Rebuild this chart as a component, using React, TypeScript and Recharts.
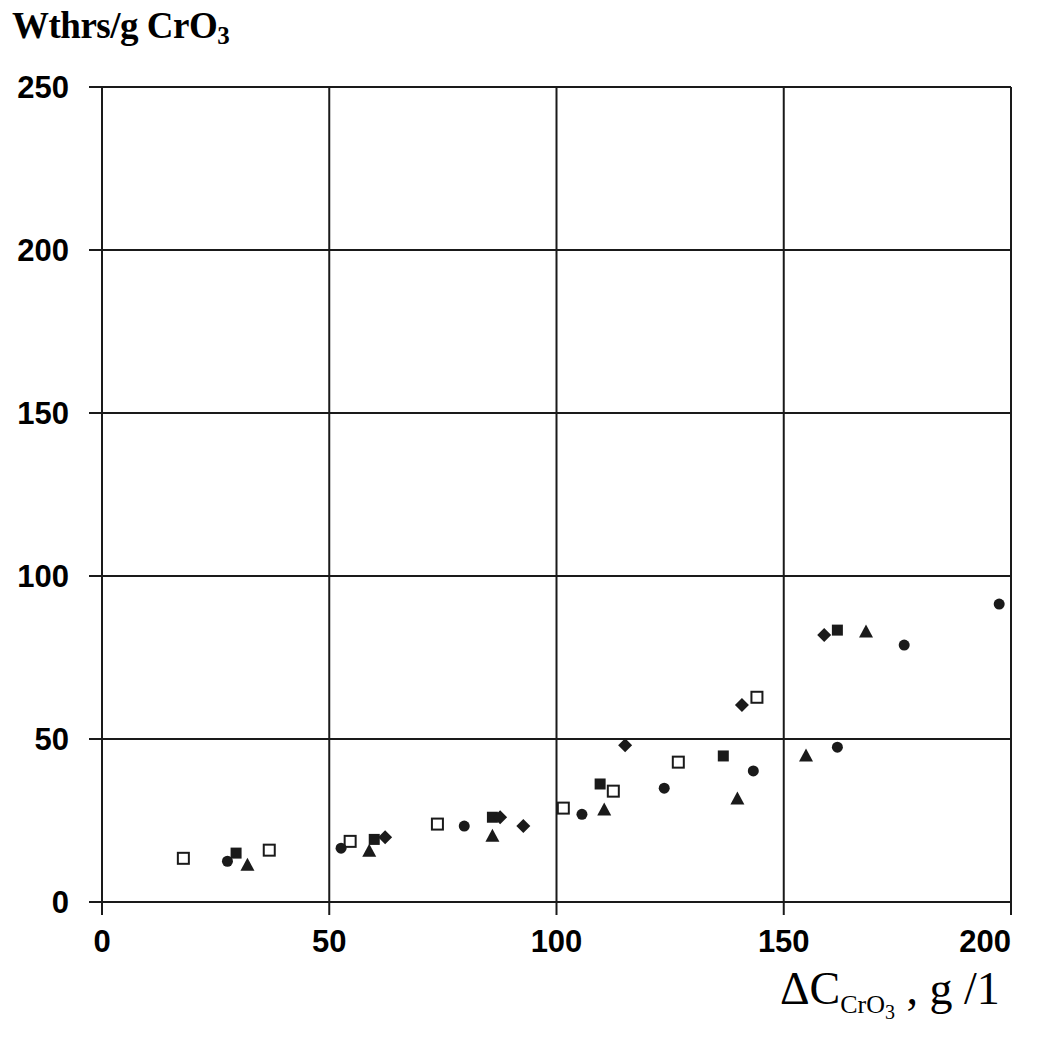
import React from 'react';
import { ScatterChart, Scatter, XAxis, YAxis, CartesianGrid } from 'recharts';

// Wthrs/g CrO3 vs ΔC CrO3, g/l
const circles = [
  { x: 27.6, y: 12.5 }, { x: 52.6, y: 16.5 }, { x: 79.7, y: 23.3 },
  { x: 105.6, y: 26.9 }, { x: 123.7, y: 34.9 }, { x: 143.3, y: 40.2 },
  { x: 161.8, y: 47.5 }, { x: 176.5, y: 78.8 }, { x: 197.4, y: 91.4 },
];
const filledSquares = [
  { x: 29.5, y: 15.0 }, { x: 59.9, y: 19.2 }, { x: 85.9, y: 26.0 },
  { x: 109.6, y: 36.2 }, { x: 136.7, y: 44.8 }, { x: 161.8, y: 83.4 },
];
const openSquares = [
  { x: 17.9, y: 13.4 }, { x: 36.8, y: 15.9 }, { x: 54.6, y: 18.6 },
  { x: 73.8, y: 23.9 }, { x: 101.5, y: 28.8 }, { x: 112.5, y: 34.0 },
  { x: 126.8, y: 42.9 }, { x: 144.1, y: 62.8 },
];
const triangles = [
  { x: 32.0, y: 11.3 }, { x: 58.8, y: 15.6 }, { x: 85.9, y: 20.2 },
  { x: 110.5, y: 28.2 }, { x: 139.8, y: 31.6 }, { x: 154.9, y: 44.8 },
  { x: 168.1, y: 82.8 },
];
const diamonds = [
  { x: 62.3, y: 19.9 }, { x: 87.6, y: 26.0 }, { x: 92.7, y: 23.3 },
  { x: 115.1, y: 48.1 }, { x: 140.8, y: 60.4 }, { x: 158.9, y: 81.9 },
];

const xTicks = [0, 50, 100, 150, 200];
const yTicks = [0, 50, 100, 150, 200, 250];

const INK = '#1a1a1a';
const tickFont = { fontFamily: '"Liberation Sans", Arial, sans-serif', fontWeight: 700, fontSize: 31, fill: '#000' };

const CircleShape = (p: any) => <circle cx={p.cx} cy={p.cy} r={5.5} fill={INK} />;
const SquareShape = (p: any) => <rect x={p.cx - 5.5} y={p.cy - 5.5} width={11} height={11} fill={INK} />;
const OpenSquareShape = (p: any) => (
  <rect x={p.cx - 5.5} y={p.cy - 5.5} width={11} height={11} fill="#fff" stroke={INK} strokeWidth={2} />
);
const TriangleShape = (p: any) => (
  <polygon points={`${p.cx},${p.cy - 7.5} ${p.cx - 7},${p.cy + 5.5} ${p.cx + 7},${p.cy + 5.5}`} fill={INK} />
);
const DiamondShape = (p: any) => (
  <polygon points={`${p.cx},${p.cy - 7} ${p.cx + 7},${p.cy} ${p.cx},${p.cy + 7} ${p.cx - 7},${p.cy}`} fill={INK} />
);

const XTick = (props: any) => {
  const { x, y, payload } = props;
  const last = payload.value === 200;
  return (
    <text x={x} y={y} dy="0.71em" textAnchor={last ? 'end' : 'middle'} style={tickFont}>
      {payload.value}
    </text>
  );
};

const YTick = (props: any) => {
  const { x, y, payload } = props;
  return (
    <text x={x} y={y} dy="0.36em" textAnchor="end" style={tickFont}>
      {payload.value}
    </text>
  );
};

export default function App() {
  return (
    <div style={{ position: 'absolute', left: 0, top: 0, width: 1044, height: 1046, background: '#fff' }}>
      <div
        style={{
          position: 'absolute', left: 12, top: 4,
          fontFamily: '"Liberation Serif", "Times New Roman", serif',
          fontWeight: 700, fontSize: 37, color: '#000', whiteSpace: 'nowrap', letterSpacing: -0.5,
        }}
      >
        Wthrs/g CrO<sub style={{ fontSize: 25, verticalAlign: '-0.25em' }}>3</sub>
      </div>
      <ScatterChart width={1044} height={1046} margin={{ top: 87, right: 33, bottom: 84, left: 0 }}>
        <CartesianGrid stroke={INK} strokeWidth={2} horizontalValues={yTicks} verticalValues={xTicks} />
        <XAxis
          type="number"
          dataKey="x"
          domain={[0, 200]}
          ticks={xTicks}
          interval={0}
          height={60}
          tickSize={13}
          tickMargin={15}
          stroke={INK}
          strokeWidth={2}
          tick={<XTick />}
        />
        <YAxis
          type="number"
          dataKey="y"
          domain={[0, 250]}
          ticks={yTicks}
          interval={0}
          width={102}
          tickSize={13}
          tickMargin={20}
          stroke={INK}
          strokeWidth={2}
          tick={<YTick />}
        />
        <Scatter data={openSquares} shape={OpenSquareShape} isAnimationActive={false} />
        <Scatter data={circles} shape={CircleShape} isAnimationActive={false} />
        <Scatter data={filledSquares} shape={SquareShape} isAnimationActive={false} />
        <Scatter data={triangles} shape={TriangleShape} isAnimationActive={false} />
        <Scatter data={diamonds} shape={DiamondShape} isAnimationActive={false} />
      </ScatterChart>
      <div
        style={{
          position: 'absolute', left: 780, top: 962,
          fontFamily: '"Liberation Serif", "Times New Roman", serif',
          fontSize: 46, color: '#000', whiteSpace: 'nowrap',
        }}
      >
        ΔC<sub style={{ fontSize: 26, verticalAlign: '-0.35em' }}>CrO<sub style={{ fontSize: 20 }}>3</sub></sub> , g /1
      </div>
    </div>
  );
}
